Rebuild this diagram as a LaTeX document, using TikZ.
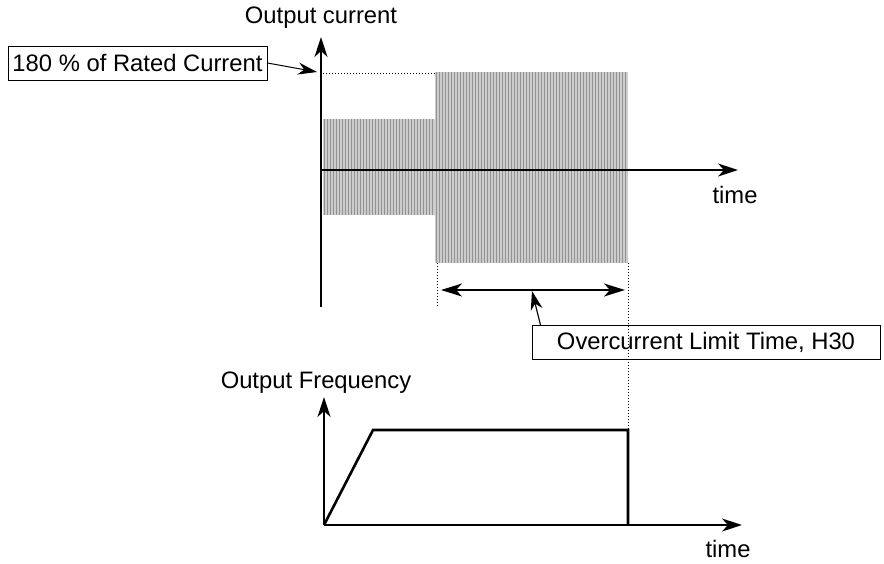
\documentclass[tikz,border=0pt]{standalone}
\usepackage{fontspec}
\setmainfont{Liberation Sans}
\usetikzlibrary{arrows.meta,positioning,calc}

\begin{document}
\begin{tikzpicture}[x=0.5pt,y=-0.5pt, every node/.style={font=\fontsize{11.9}{14}\selectfont},
  tip/.style={-{Stealth[length=10pt,width=6.5pt,inset=3pt]}},
  axis/.style={line width=1pt,tip},
  labelbox/.style={draw,line width=0.5pt,inner sep=0pt,minimum height=17pt},
  dotline/.style={densely dotted,line width=0.5pt},
  stripe/.style={gray!85,line width=0.5pt},
  trace/.style={line width=1.3pt,line join=miter}]
  \useasboundingbox (0,0) rectangle (884,563);
  % hatched current blocks
  \fill[gray!40] (323,119) rectangle (435,215);
  \fill[gray!40] (435,72) rectangle (628,263);
  \foreach \x in {324,327,...,434} \draw[stripe] (\x,119) -- (\x,215);
  \foreach \x in {436,439,...,627} \draw[stripe] (\x,72) -- (\x,263);
  % output current axes
  \coordinate (ctop) at (321,37);
  \coordinate (cbot) at (321,307);
  \coordinate (corg) at (321,170);
  \coordinate (cend) at (738,170);
  \draw[line width=1pt] (cbot) -- (corg);
  \draw[axis] (corg) -- (ctop);
  \draw[axis] (corg) -- (cend);
  \node (clabel) at (321,18) {Output current};
  \node (ctime) at (735,195) {time};
  % 180 % level
  \coordinate (lvl) at (323,73);
  \coordinate (lvlend) at (435,73);
  \draw[dotline] (lvl) -- (lvlend);
  \node[labelbox,minimum width=129.5pt] (rated) at (137.5,63) {180 \% of Rated Current};
  \draw[line width=0.5pt,-{Stealth[length=9.5pt,width=6pt,inset=3pt]}] (rated.east) -- (317,72);
  % limit time
  \coordinate (tstart) at (437,263);
  \coordinate (tstartb) at (437,307);
  \coordinate (tend) at (628,263);
  \coordinate (tendb) at (628,430);
  \draw[dotline] (tstart) -- (tstartb);
  \draw[dotline] (tend) -- (tendb);
  \coordinate (dl) at (441,290);
  \coordinate (dr) at (625,290);
  \draw[line width=0.6pt,{Stealth[length=10.5pt,width=6.5pt,inset=3pt]}-{Stealth[length=10.5pt,width=6.5pt,inset=3pt]}] (dl) -- (dr);
  \node[labelbox,minimum width=174pt] (limit) at (706,342.5) {Overcurrent Limit Time, H30};
  \coordinate (ptr) at (532,291);
  \draw[line width=0.6pt,-{Stealth[length=9.5pt,width=6pt,inset=3pt]}] ($(limit.north west)+(9,0)$) -- (ptr);
  % output frequency axes
  \coordinate (forg) at (324,525);
  \coordinate (ftop) at (324,397);
  \coordinate (fend) at (742,525);
  \draw[axis] (forg) -- (ftop);
  \draw[axis] (forg) -- (fend);
  \node (flabel) at (316,383) {Output Frequency};
  \node (ftime) at (728,549) {time};
  \draw[trace] (forg) -- (373,430) -- (tendb) -- (628,525);
\end{tikzpicture}
\end{document}
